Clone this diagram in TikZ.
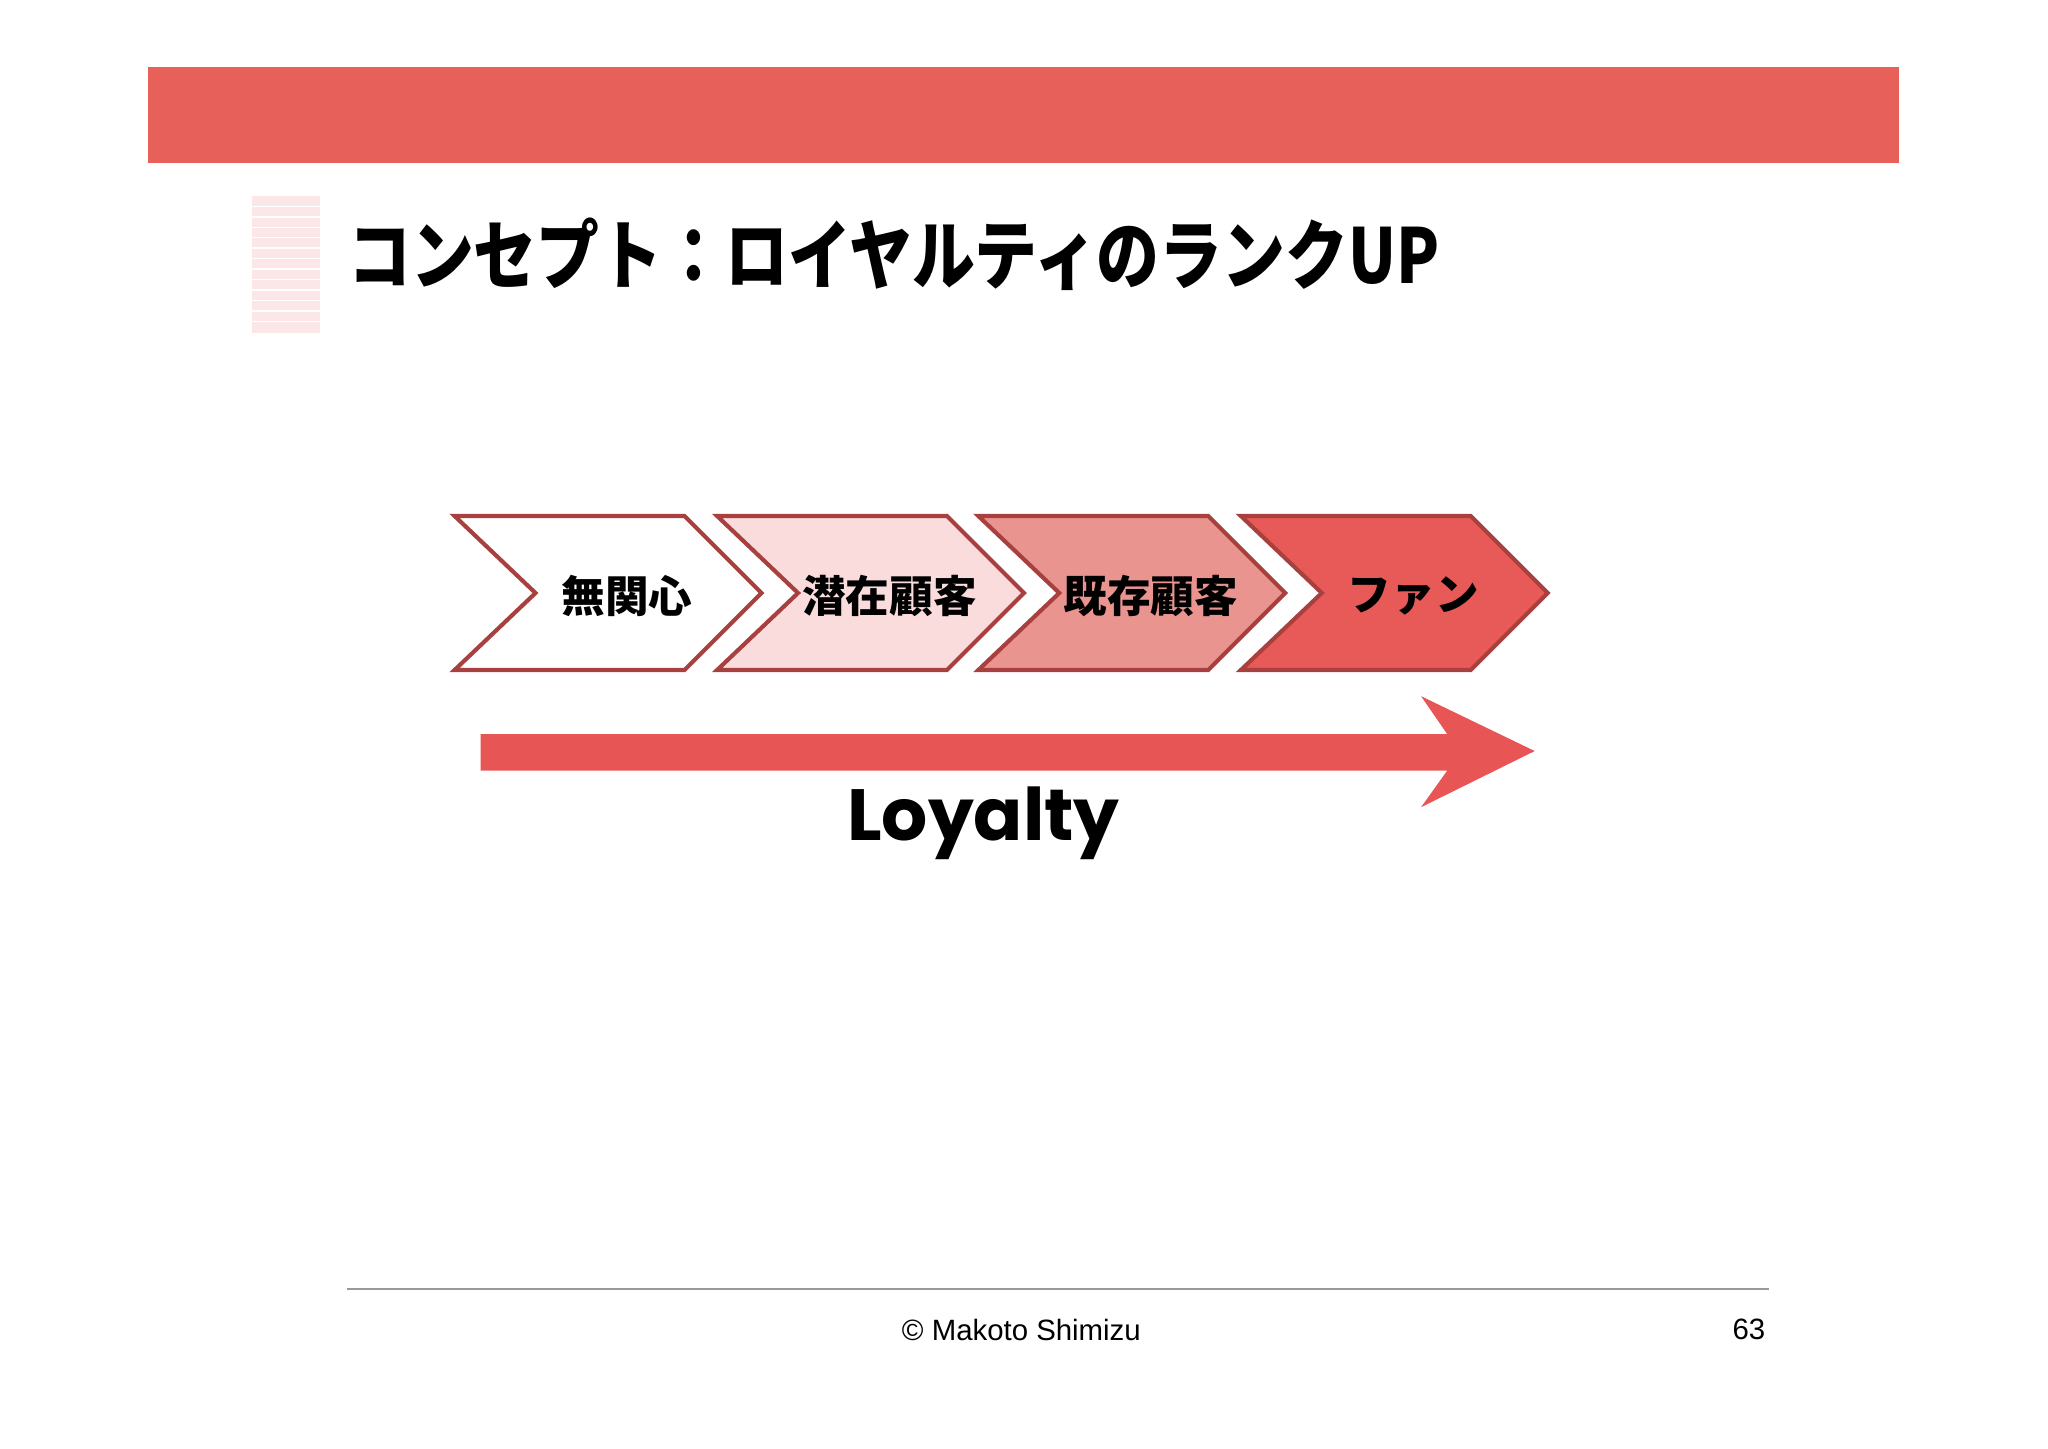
\documentclass[tikz,border=0pt]{standalone}
\usepackage{fontspec}
\newfontfamily\cjk{Noto Sans CJK JP}
\newfontfamily\pop{Poppins}
\newfontfamily\lib{Liberation Sans}
\definecolor{banner}{HTML}{E8605A}
\definecolor{edge}{HTML}{A84040}
\definecolor{c1}{HTML}{FFFFFF}
\definecolor{c2}{HTML}{FADCDC}
\definecolor{c3}{HTML}{EA9490}
\definecolor{c4}{HTML}{E85A58}
\definecolor{arr}{HTML}{E85555}
\tikzset{chev/.style={draw=edge,line width=0.9pt,line join=miter},
  lab/.style={font=\cjk\bfseries\fontsize{9.5}{10}\selectfont}}
\begin{document}
\begin{tikzpicture}[x=0.1mm,y=-0.1mm]
\useasboundingbox (0,0) rectangle (1568,1109);
\fill[white] (0,0) rectangle (1568,1109);
\fill[banner] (113,51) rectangle (1454,125);
\fill[c2!70] (193,150) rectangle (245,255);
\foreach \y in {158,166,...,250} \draw[white,line width=0.3pt] (193,\y) -- (245,\y);
\node[anchor=west,inner sep=0,xscale=0.83,font=\cjk\bfseries\fontsize{16.5}{18}\selectfont] (title) at (266,195) {コンセプト：ロイヤルティのランクUP};
\foreach \x/\c/\n in {348/c1/a,549/c2/b,749/c3/c,950/c4/d}{
  \filldraw[chev,fill=\c] (\x,395) -- (\x+176,395) -- (\x+235,454) -- (\x+176,513) -- (\x,513) -- (\x+62,454) -- cycle;
  \coordinate (\n) at (\x+132,456);
}
\node[lab] (t1) at (a) {無関心};
\node[lab] (t2) at (b) {潜在顧客};
\node[lab] (t3) at (c) {既存顧客};
\node[lab] (t4) at (d) {ファン};
\fill[arr] (368,562) -- (1108,562) -- (1088,533) -- (1175,575) -- (1088,618) -- (1108,590) -- (368,590) -- cycle;
\node[font=\pop\bfseries\fontsize{15.8}{17}\selectfont] (loy) at (753,630) {Loyalty};
\draw[gray!80,line width=0.4pt] (266,987) -- (1354,987);
\node[font=\lib\fontsize{6.4}{7}\selectfont] (cp) at (782,1018) {© Makoto Shimizu};
\node[font=\lib\fontsize{6.4}{7}\selectfont] (pg) at (1339,1018) {63};
\end{tikzpicture}
\end{document}
